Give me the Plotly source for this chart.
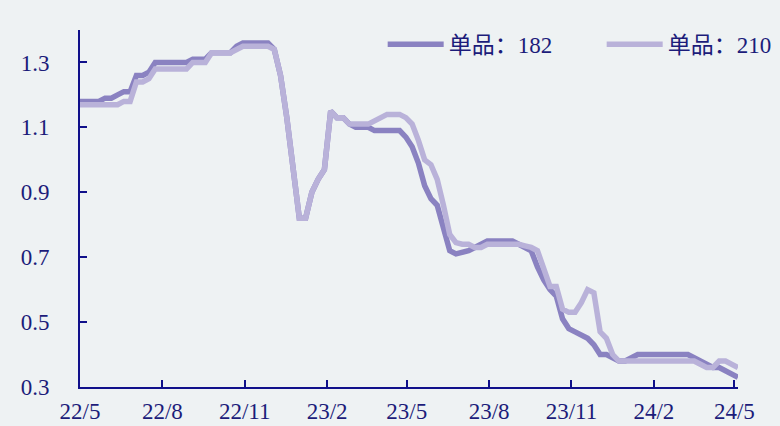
import pandas as pd
import plotly.graph_objects as go

# Weekly price series (元/W), May 2022 – May 2024
dates = pd.date_range("2022-05-01", periods=106, freq="7D")

mono_182 = [
    1.18, 1.18, 1.18, 1.18, 1.19, 1.19, 1.20, 1.21, 1.21, 1.26,
    1.26, 1.27, 1.30, 1.30, 1.30, 1.30, 1.30, 1.30, 1.31, 1.31,
    1.31, 1.33, 1.33, 1.33, 1.33, 1.35, 1.36, 1.36, 1.36, 1.36,
    1.36, 1.34, 1.26, 1.13, 0.99, 0.82, 0.82, 0.90, 0.94, 0.97,
    1.15, 1.13, 1.13, 1.11, 1.10, 1.10, 1.10, 1.09, 1.09, 1.09,
    1.09, 1.09, 1.07, 1.04, 0.99, 0.92, 0.88, 0.86, 0.79, 0.72,
    0.71, 0.715, 0.72, 0.73, 0.74, 0.75, 0.75, 0.75, 0.75, 0.75,
    0.74, 0.73, 0.72, 0.67, 0.63, 0.60, 0.58, 0.51, 0.48, 0.47,
    0.46, 0.45, 0.43, 0.40, 0.40, 0.39, 0.38, 0.38, 0.39, 0.40,
    0.40, 0.40, 0.40, 0.40, 0.40, 0.40, 0.40, 0.40, 0.39, 0.38,
    0.37, 0.36, 0.36, 0.35, 0.34, 0.33,
]

mono_210 = [
    1.17, 1.17, 1.17, 1.17, 1.17, 1.17, 1.17, 1.18, 1.18, 1.24,
    1.24, 1.25, 1.28, 1.28, 1.28, 1.28, 1.28, 1.28, 1.30, 1.30,
    1.30, 1.33, 1.33, 1.33, 1.33, 1.34, 1.35, 1.35, 1.35, 1.35,
    1.35, 1.34, 1.26, 1.13, 0.99, 0.82, 0.82, 0.90, 0.94, 0.97,
    1.15, 1.13, 1.13, 1.11, 1.11, 1.11, 1.11, 1.12, 1.13, 1.14,
    1.14, 1.14, 1.13, 1.11, 1.06, 1.00, 0.985, 0.94, 0.86, 0.77,
    0.745, 0.74, 0.74, 0.73, 0.73, 0.74, 0.74, 0.74, 0.74, 0.74,
    0.74, 0.735, 0.73, 0.72, 0.66, 0.61, 0.61, 0.54, 0.53, 0.53,
    0.56, 0.60, 0.59, 0.47, 0.45, 0.40, 0.38, 0.38, 0.38, 0.38,
    0.38, 0.38, 0.38, 0.38, 0.38, 0.38, 0.38, 0.38, 0.38, 0.37,
    0.36, 0.36, 0.38, 0.38, 0.37, 0.36,
]

tick_dates = ["2022-05-01", "2022-08-01", "2022-11-01", "2023-02-01", "2023-05-01",
              "2023-08-01", "2023-11-01", "2024-02-01", "2024-05-01"]
tick_labels = ["22/5", "22/8", "22/11", "23/2", "23/5", "23/8", "23/11", "24/2", "24/5"]
y_ticks = [0.3, 0.5, 0.7, 0.9, 1.1, 1.3]

series_names = ["单品：182", "单品：210"]
colors = ["#8a82c1", "#b9b2d9"]
axis_color = "#10108a"
text_color = "#1c1c7a"
font_family = "Liberation Serif, Noto Sans CJK SC, serif"

fig = go.Figure()
for name, vals, col in zip(series_names, [mono_182, mono_210], colors):
    fig.add_trace(go.Scatter(
        x=dates, y=vals, name=name, mode="lines",
        line=dict(color=col, width=5.5),
    ))

fig.update_layout(
    width=780, height=426,
    margin=dict(l=80, r=42, t=30, b=39, autoexpand=False),
    paper_bgcolor="#eef2f3",
    plot_bgcolor="#eef2f3",
    font=dict(family=font_family, size=23, color=text_color),
    showlegend=True,
    legend=dict(
        orientation="h", x=0.46, xanchor="left", y=0.96, yanchor="middle",
        bgcolor="rgba(0,0,0,0)", font=dict(size=23, color=text_color),
        itemwidth=56, entrywidth=148, entrywidthmode="pixels",
        tracegroupgap=0,
    ),
)

fig.update_xaxes(
    range=[dates[0], dates[-1]],
    tickmode="array", tickvals=tick_dates, ticktext=tick_labels,
    showgrid=False, zeroline=False,
    showline=True, linecolor=axis_color, linewidth=2,
    ticks="inside", ticklen=7, tickwidth=2, tickcolor=axis_color,
    ticklabelstandoff=2,
)
fig.update_yaxes(
    range=[0.3, 1.4],
    tickmode="array", tickvals=y_ticks, ticktext=[f"{v:.1f}" for v in y_ticks],
    showgrid=False, zeroline=False,
    showline=True, linecolor=axis_color, linewidth=2,
    ticks="inside", ticklen=7, tickwidth=2, tickcolor=axis_color,
    ticklabelstandoff=24,
)

fig.write_html("out.html")
